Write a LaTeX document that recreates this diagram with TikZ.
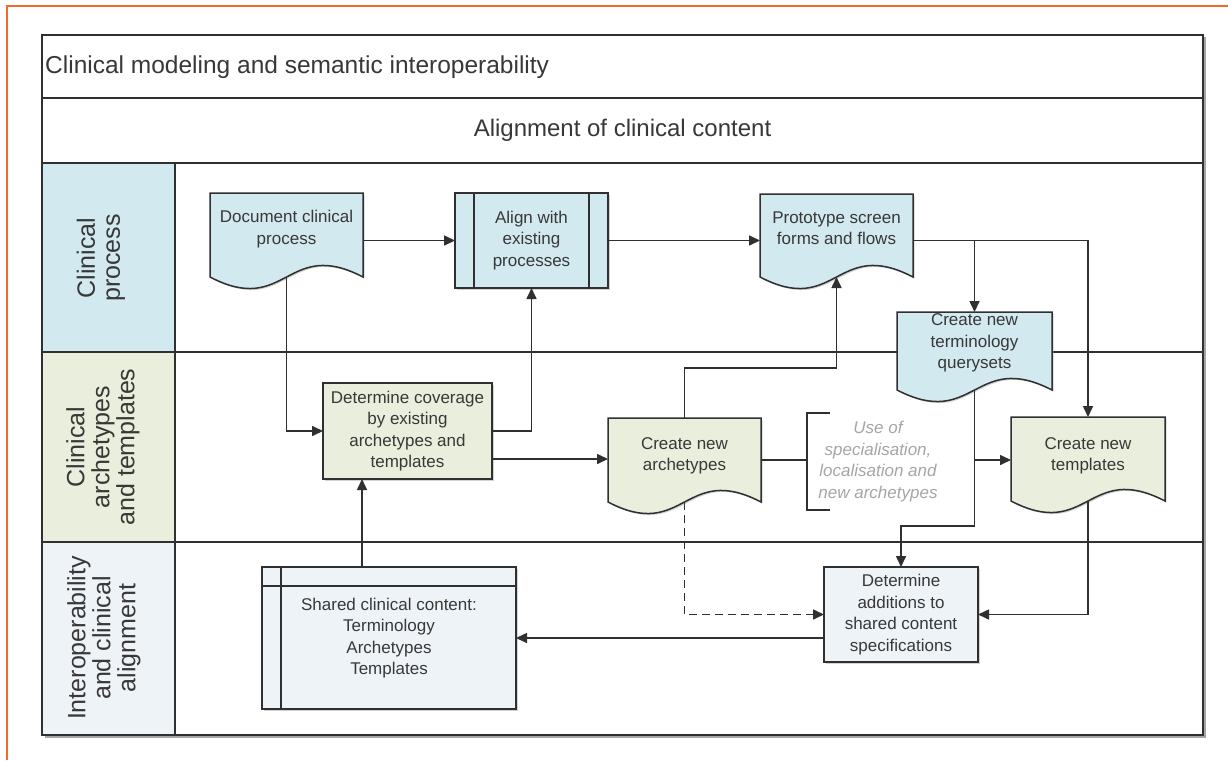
\documentclass[tikz,border=0pt]{standalone}
\usepackage{fontspec}
\setmainfont{Liberation Sans}
\usetikzlibrary{arrows.meta,calc,shadows}
\pgfdeclarelayer{bg}
\pgfdeclarelayer{shp}
\pgfsetlayers{bg,shp,main}
\definecolor{lblue}{HTML}{D2E9F0}
\definecolor{lgreen}{HTML}{E9EFDC}
\definecolor{lpale}{HTML}{EEF3F8}
\definecolor{orng}{HTML}{F26A2A}
\definecolor{ink}{HTML}{303030}
\definecolor{txt}{HTML}{383838}
\definecolor{gtxt}{HTML}{A6A6A6}
\newcommand\nfont{\fontsize{17}{21.5}\selectfont}
\newcommand\tfont{\fontsize{24.5}{28}\selectfont}
\newcommand\afont{\fontsize{24}{28}\selectfont}
\newcommand\lfont{\fontsize{25}{25}\selectfont}
\newcommand\docshape[3]{%
  \begin{pgfonlayer}{shp}
  \draw[shapeline, fill=#2, drop shadow={shadow xshift=1.5pt, shadow yshift=-1.5pt, fill=black!35}]
    (#1.north west) -- (#1.north east) -- ($(#1.north east)+(0,#3)$)
    .. controls ($(#1.north)+(0,#3-40)$) and ($(#1.north)+(0,#3+40)$) .. ($(#1.north west)+(0,#3)$) -- cycle;
  \end{pgfonlayer}
  \coordinate (#1-b) at ($(#1.north)+(0,#3)$);}
\begin{document}
\begin{tikzpicture}[x=1pt,y=-1pt,
  frame/.style={draw=ink, line width=1.6pt},
  shapeline/.style={draw=ink, line width=1.5pt},
  line/.style={draw=ink, line width=1.6pt},
  arr/.style={line, -{Triangle[length=11pt,width=10pt]}},
  darr/.style={arr, dash pattern=on 8pt off 5pt},
  rbox/.style={draw=ink, line width=1.5pt, inner sep=0pt, outer sep=0pt, align=center, text=txt, font=\nfont,
     drop shadow={shadow xshift=1.5pt, shadow yshift=-1.5pt, fill=black!35}},
  dtext/.style={inner sep=0pt, outer sep=0pt, align=center, text=txt, font=\nfont},
  lane/.style={rotate=90, align=center, text=txt, font=\lfont, inner sep=0pt}]
\useasboundingbox (0,0) rectangle (1228,760);
\begin{pgfonlayer}{bg}
  \draw[orng, line width=2.2pt] (1228,6) -- (7,6) -- (7,760);
  \fill[black!35] (44.5,37.5) rectangle (1205.5,737.5);
  \fill[white] (42,35) rectangle (1203,735);
  \fill[lblue] (42,163) rectangle (175,352);
  \fill[lgreen] (42,352) rectangle (175,542);
  \fill[lpale] (42,542) rectangle (175,735);
  \draw[frame] (42,35) rectangle (1203,735);
  \draw[frame] (42,98) -- (1203,98);
  \draw[frame] (42,163) -- (1203,163);
  \draw[frame] (42,352) -- (1203,352);
  \draw[frame] (42,542) -- (1203,542);
  \draw[frame] (175,163) -- (175,735);
\end{pgfonlayer}
% header texts
\node[anchor=west, text=txt, font=\tfont, inner sep=0pt] (title) at (45,67) {Clinical modeling and semantic interoperability};
\node[text=txt, font=\afont, inner sep=0pt] (align0) at (622.5,130) {Alignment of clinical content};
% lane labels
\node[lane] (lane1) at (101,258) {Clinical\\process};
\node[lane] (lane2) at (103,447) {Clinical\\archetypes\\and templates};
\node[lane] (lane3) at (104,638) {Interoperability\\and clinical\\alignment};
% rectangle nodes
\node[rbox, fill=lblue, minimum width=153pt, minimum height=95pt] (align) at (531.5,240.5) {Align with\\existing\\processes};
\draw[line] ($(align.north west)+(19,0)$) -- ($(align.south west)+(19,0)$);
\draw[line] ($(align.north east)+(-19,0)$) -- ($(align.south east)+(-19,0)$);
\node[rbox, fill=lgreen, minimum width=169pt, minimum height=96pt] (cover) at (407.5,431) {Determine coverage\\by existing\\archetypes and\\templates};
\node[rbox, fill=lpale, minimum width=154pt, minimum height=95pt] (addit) at (901,614.5) {Determine\\additions to\\shared content\\specifications};
\node[rbox, fill=lpale, minimum width=254pt, minimum height=142pt] (shared) at (389,638) {Shared clinical content:\\Terminology\\Archetypes\\Templates};
\draw[line] ($(shared.north west)+(19,0)$) -- ($(shared.south west)+(19,0)$);
\draw[line] ($(shared.north west)+(0,19)$) -- ($(shared.north east)+(0,19)$);
% document nodes
\node[dtext, minimum width=153pt, minimum height=72pt] (doc1) at (286.5,229) {Document clinical\\process};
\docshape{doc1}{lblue}{84}
\node[dtext, minimum width=153pt, minimum height=68pt] (proto) at (836.5,228) {Prototype screen\\forms and flows};
\docshape{proto}{lblue}{83}
\node[dtext, minimum width=155pt, minimum height=62pt] (query) at (974.5,343) {Create new\\terminology\\querysets};
\docshape{query}{lblue}{78}
\node[dtext, minimum width=153pt, minimum height=76pt] (arch) at (684.5,456) {Create new\\archetypes};
\docshape{arch}{lgreen}{84}
\node[dtext, minimum width=154pt, minimum height=78pt] (templ) at (1088,456) {Create new\\templates};
\docshape{templ}{lgreen}{84}
% annotation
\node[inner sep=0pt, outer sep=0pt, minimum width=142pt, minimum height=97pt, align=center, text=gtxt, font=\nfont\itshape] (note) at (878,461.5) {Use of\\specialisation,\\localisation and\\new archetypes};
\draw[line] ($(note.north west)+(23,0)$) -- (note.north west) -- (note.south west) -- ($(note.south west)+(23,0)$);
% connectors
\coordinate (lv) at ($(arch.west)+(0,4)$);
\draw[arr] (align.west -| doc1.east) -- (align.west);
\draw[arr] (doc1-b) |- (cover.west);
\draw[arr] (cover.east) -| (align.south);
\coordinate (c2a) at ($(cover.east)+(0,28)$);
\draw[arr] (c2a) -- (c2a -| arch.west);
\draw[arr] (align.east) -- (align.east -| proto.west);
\draw[arr] (align.east -| proto.east) -| (query.north);
\draw[arr] (align.east -| proto.east) -| (templ.north);
\coordinate (qj) at ($(query-b)+(0,136)$);
\draw[arr] (query-b) -- (qj) -| (addit.north);
\draw[arr] (lv -| query-b) -- (lv -| templ.west);
\draw[arr] (arch.north) -- ++(0,-50) -| (proto-b);
\draw[darr] (arch-b) |- (addit.west);
\draw[arr] (templ-b) |- (addit.east);
\draw[arr] (addit.west |- shared.east) -- (shared.east);
\coordinate (sj) at ($(shared.north)+(-27,0)$);
\draw[arr] (sj) -- (sj |- cover.south);
\draw[line] (lv -| arch.east) -- (lv -| note.west);
\end{tikzpicture}
\end{document}
